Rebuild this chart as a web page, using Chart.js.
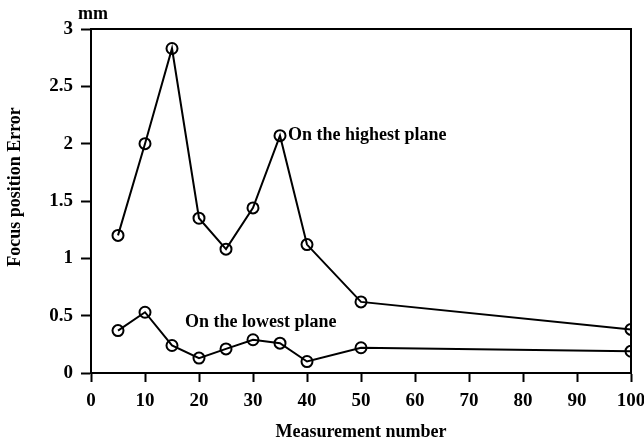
<!DOCTYPE html>
<html>
<head>
<meta charset="utf-8">
<script src="https://cdn.jsdelivr.net/npm/chart.js@4"></script>
<style>
  html, body { margin: 0; padding: 0; background: #fff; }
  #wrap { width: 644px; height: 444px; position: relative; }
</style>
</head>
<body>
<div id="wrap"><canvas id="chart"></canvas></div>
<script>
// Datos
const measurementNumbers = [5, 10, 15, 20, 25, 30, 35, 40, 50, 100];
const highestPlane = [1.20, 2.00, 2.83, 1.35, 1.08, 1.44, 2.07, 1.12, 0.62, 0.38];
const lowestPlane = [0.37, 0.53, 0.24, 0.13, 0.21, 0.29, 0.26, 0.10, 0.22, 0.19];
const xTickValues = [0, 10, 20, 30, 40, 50, 60, 70, 80, 90, 100];
const yTickValues = [0, 0.5, 1, 1.5, 2, 2.5, 3];
const seriesNames = ['On the highest plane', 'On the lowest plane'];
// posición (en unidades de datos) de cada rótulo
const labelX = [35, 17.4];
const labelY = [2.07, 0.445];
const unitLabel = 'mm';
const yTitle = 'Focus position Error';

const FONT = "'Liberation Serif', 'Times New Roman', serif";

// Recuadro del área de trazado, rótulos de las series y título del eje Y
const framePlugin = {
  id: 'frame',
  afterDatasetsDraw(chart) {
    const { ctx, chartArea: a, scales } = chart;
    ctx.save();
    ctx.strokeStyle = '#000';
    ctx.lineWidth = 2;
    ctx.strokeRect(a.left, a.top, a.right - a.left, a.bottom - a.top);

    ctx.fillStyle = '#000';
    ctx.font = 'bold 18px ' + FONT;
    ctx.textBaseline = 'middle';
    ctx.textAlign = 'left';
    ctx.fillText(seriesNames[0], scales.x.getPixelForValue(labelX[0]) + 8, scales.y.getPixelForValue(labelY[0]));
    ctx.fillText(seriesNames[1], scales.x.getPixelForValue(labelX[1]), scales.y.getPixelForValue(labelY[1]));

    // unidad sobre el eje
    ctx.textAlign = 'center';
    ctx.textBaseline = 'alphabetic';
    ctx.fillText(unitLabel, a.left + 2, a.top - 10);

    // título vertical
    ctx.translate(15, 187);
    ctx.rotate(-Math.PI / 2);
    ctx.textBaseline = 'middle';
    ctx.fillText(yTitle, 0, 0);
    ctx.restore();
  }
};

function makeDataset(name, values) {
  return {
    label: name,
    data: measurementNumbers.map((x, i) => ({ x, y: values[i] })),
    borderColor: '#000',
    borderWidth: 2,
    pointRadius: 5.5,
    pointBorderWidth: 2,
    pointBorderColor: '#000',
    pointBackgroundColor: 'rgba(255,255,255,0)',
    tension: 0,
    fill: false
  };
}

const ctx = document.getElementById('chart').getContext('2d');
new Chart(ctx, {
  type: 'line',
  data: {
    datasets: [
      makeDataset(seriesNames[0], highestPlane),
      makeDataset(seriesNames[1], lowestPlane)
    ]
  },
  options: {
    responsive: true,
    maintainAspectRatio: false,
    animation: false,
    layout: { padding: { top: 29, right: 13, left: 0, bottom: 0 } },
    plugins: {
      legend: { display: false },
      tooltip: { enabled: false }
    },
    scales: {
      x: {
        type: 'linear',
        min: 0,
        max: 100,
        afterBuildTicks(scale) {
          scale.ticks = xTickValues.map(v => ({ value: v }));
        },
        afterFit(scale) {
          scale.height = 71;
          scale.paddingRight = 0;
          scale.paddingLeft = 0;
        },
        grid: {
          drawOnChartArea: false,
          drawTicks: true,
          tickLength: 9,
          tickWidth: 2,
          tickColor: '#000'
        },
        border: { display: true, color: '#000', width: 2 },
        ticks: {
          color: '#000',
          padding: 8,
          maxRotation: 0,
          font: { family: FONT, size: 19, weight: 'bold' }
        },
        title: {
          display: true,
          text: 'Measurement number',
          color: '#000',
          padding: { top: 0, bottom: 1 },
          font: { family: FONT, size: 18, weight: 'bold' }
        }
      },
      y: {
        type: 'linear',
        min: 0,
        max: 3,
        afterBuildTicks(scale) {
          scale.ticks = yTickValues.map(v => ({ value: v }));
        },
        afterFit(scale) { scale.width = 91; },
        grid: {
          drawOnChartArea: false,
          drawTicks: true,
          tickLength: 10,
          tickWidth: 2,
          tickColor: '#000'
        },
        border: { display: true, color: '#000', width: 2 },
        ticks: {
          color: '#000',
          padding: 8,
          font: { family: FONT, size: 19, weight: 'bold' },
          callback: v => String(v)
        },
        title: { display: false }
      }
    }
  },
  plugins: [framePlugin]
});
</script>
</body>
</html>
